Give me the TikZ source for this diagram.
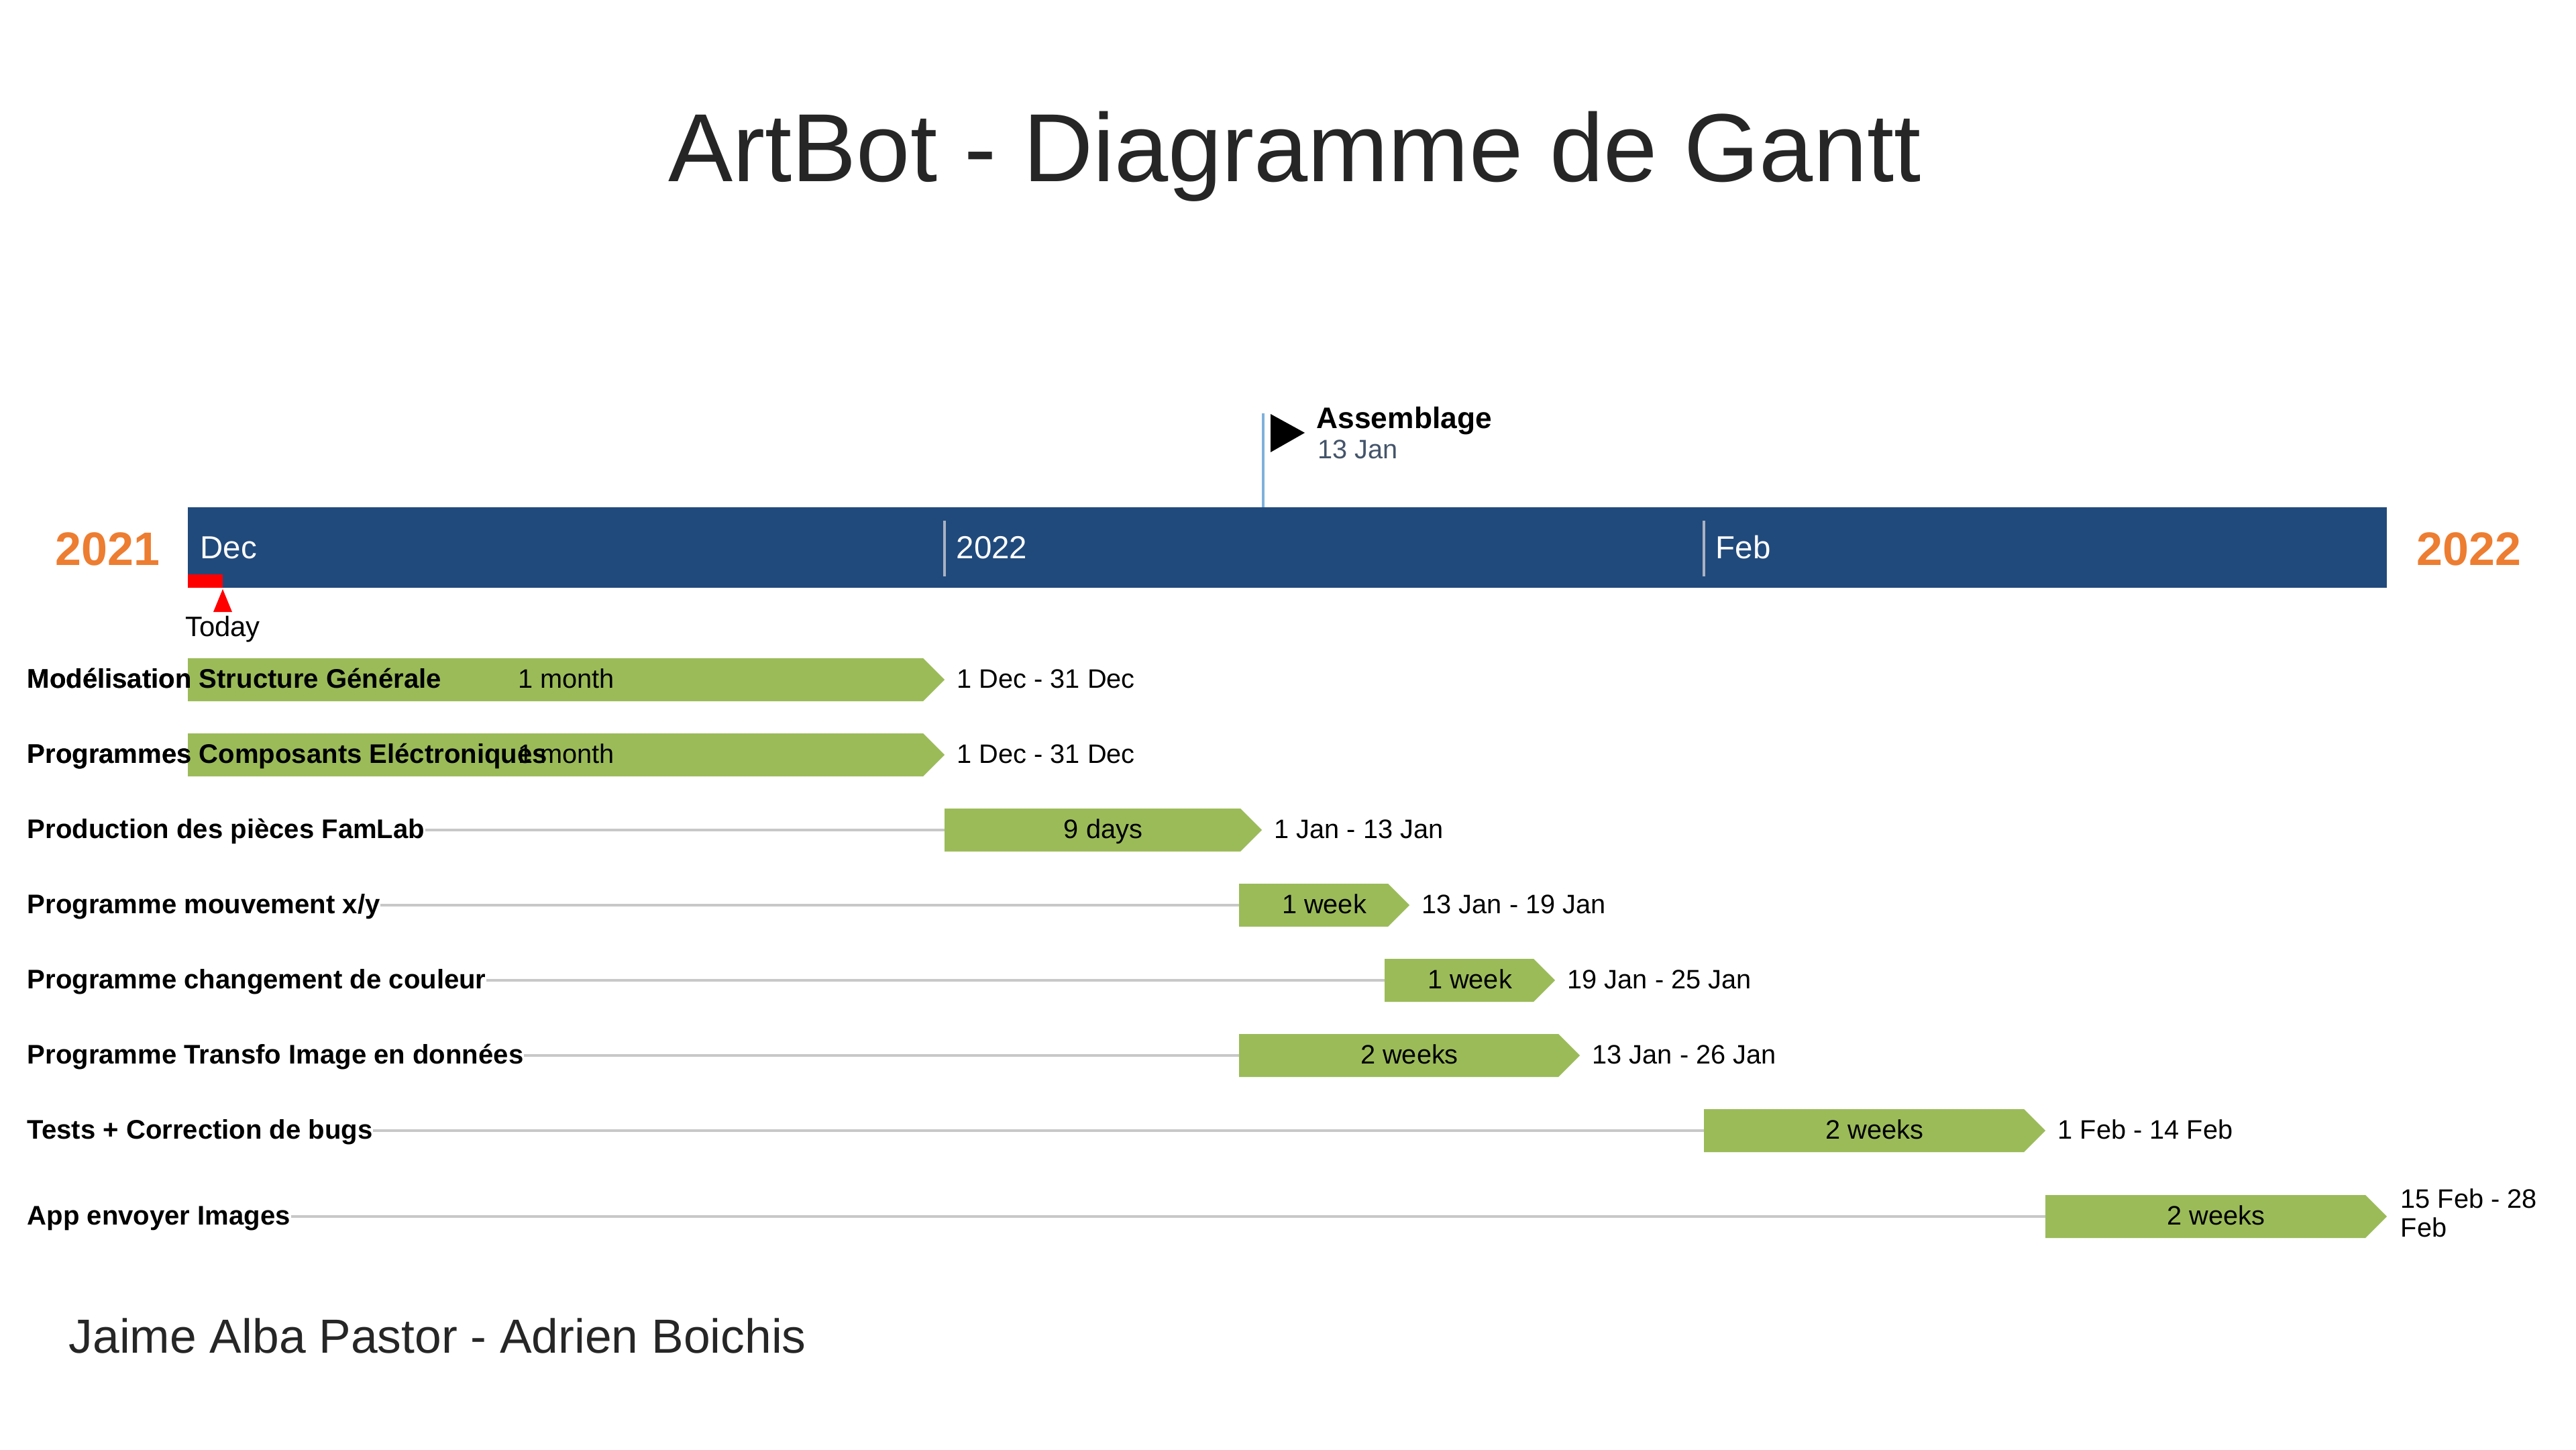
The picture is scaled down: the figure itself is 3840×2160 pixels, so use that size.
\documentclass[tikz,border=0pt]{standalone}
\usepackage{fontspec}
\setmainfont{Liberation Sans}
\usetikzlibrary{calc}
\definecolor{barblue}{HTML}{214A7C}
\definecolor{taskgreen}{HTML}{9BBB59}
\definecolor{yearorange}{HTML}{ED7D31}
\definecolor{gridgray}{HTML}{C8C8C8}
\definecolor{titlegray}{HTML}{262626}
\definecolor{divgray}{HTML}{A9B1C2}
\definecolor{poleblue}{HTML}{7FB1DB}
\definecolor{slate}{HTML}{44546A}
\newcommand\taskbar[2]{\fill[taskgreen] ($(#1)+(0,-32)$) -- ($(#2)+(-32,-32)$) -- (#2) -- ($(#2)+(-32,32)$) -- ($(#1)+(0,32)$) -- cycle;}
\tikzset{
  tasklbl/.style={anchor=base west, inner sep=0pt, text=black, font=\fontsize{11.4}{13}\selectfont\bfseries},
  durlbl/.style={anchor=base, inner sep=0pt, text=black, font=\fontsize{11.3}{13}\selectfont},
  datelbl/.style={anchor=base west, inner sep=0pt, text=black, font=\fontsize{11.3}{12.24}\selectfont},
  monthlbl/.style={anchor=base west, inner sep=0pt, text=white, font=\fontsize{13.5}{16}\selectfont},
  yearlbl/.style={anchor=base west, inner sep=0pt, text=yearorange, font=\fontsize{19.9}{23}\selectfont\bfseries},
  gridline/.style={draw=gridgray, line width=1pt},
  divline/.style={draw=divgray, line width=0.9pt},
}
\begin{document}
\begin{tikzpicture}[x=0.01cm, y=-0.01cm]
\useasboundingbox (0,0) rectangle (3840,2160);
\fill[white] (0,0) rectangle (3840,2160);

% title and author
\node[anchor=base, inner sep=0pt, text=titlegray, font=\fontsize{41}{48}\selectfont] (title) at (1930,270) {ArtBot - Diagramme de Gantt};
\node[anchor=base west, inner sep=0pt, text=titlegray, font=\fontsize{20.3}{24}\selectfont] (author) at (102,2016) {Jaime Alba Pastor - Adrien Boichis};

% timeline bar
\fill[barblue] (280,756) rectangle (3558,876);
\coordinate (jantop) at (1408,776);
\coordinate (janbot) at (1408,859);
\coordinate (febtop) at (2540,776);
\coordinate (febbot) at (2540,859);
\draw[divline] (jantop) -- (janbot);
\draw[divline] (febtop) -- (febbot);
\node[monthlbl] (mDec) at (298,832) {Dec};
\node[monthlbl] (mJan) at (1425,832) {2022};
\node[monthlbl] (mFeb) at (2557,832) {Feb};
\node[yearlbl] (y2021) at (82,842) {2021};
\node[yearlbl] (y2022) at (3602,842) {2022};

% today marker
\fill[red] (280,856) rectangle (332,876);
\fill[red] (332,878) -- (346,912) -- (318,912) -- cycle;
\node[anchor=base, inner sep=0pt, text=black, font=\fontsize{11.9}{14}\selectfont] (today) at (332,948) {Today};

% milestone
\coordinate (poletop) at (1883,616);
\coordinate (polebot) at (1883,756);
\draw[draw=poleblue, line width=0.9pt] (poletop) -- (polebot);
\fill[black] (1894,617) -- (1945,645) -- (1894,674) -- cycle;
\node[anchor=base west, inner sep=0pt, text=black, font=\fontsize{12.6}{15}\selectfont\bfseries] (asm) at (1962,638) {Assemblage};
\node[anchor=base west, inner sep=0pt, text=slate, font=\fontsize{11.3}{13}\selectfont] (asmdate) at (1964,683) {13 Jan};

% task coordinates
\coordinate (s1) at (280,1013);  \coordinate (e1) at (1408,1013);
\coordinate (s2) at (280,1125);  \coordinate (e2) at (1408,1125);
\coordinate (s3) at (1408,1237); \coordinate (e3) at (1881,1237);
\coordinate (s4) at (1847,1349); \coordinate (e4) at (2101,1349);
\coordinate (s5) at (2064,1461); \coordinate (e5) at (2318,1461);
\coordinate (s6) at (1847,1573); \coordinate (e6) at (2355,1573);
\coordinate (s7) at (2540,1685); \coordinate (e7) at (3049,1685);
\coordinate (s8) at (3049,1813); \coordinate (e8) at (3558,1813);

% task labels
\node[tasklbl] (L1) at (40,1025) {Modélisation Structure Générale};
\node[tasklbl] (L2) at (40,1137) {Programmes Composants Eléctroniques};
\node[tasklbl] (L3) at (40,1249) {Production des pièces FamLab};
\node[tasklbl] (L4) at (40,1361) {Programme mouvement x/y};
\node[tasklbl] (L5) at (40,1473) {Programme changement de couleur};
\node[tasklbl] (L6) at (40,1585) {Programme Transfo Image en données};
\node[tasklbl] (L7) at (40,1697) {Tests + Correction de bugs};
\node[tasklbl] (L8) at (40,1825) {App envoyer Images};

% connectors from labels to bars
\draw[gridline] (L3.east |- s3) -- (s3);
\draw[gridline] (L4.east |- s4) -- (s4);
\draw[gridline] (L5.east |- s5) -- (s5);
\draw[gridline] (L6.east |- s6) -- (s6);
\draw[gridline] (L7.east |- s7) -- (s7);
\draw[gridline] (L8.east |- s8) -- (s8);

% bars
\taskbar{s1}{e1}
\taskbar{s2}{e2}
\taskbar{s3}{e3}
\taskbar{s4}{e4}
\taskbar{s5}{e5}
\taskbar{s6}{e6}
\taskbar{s7}{e7}
\taskbar{s8}{e8}

% labels redrawn on top of bars for the overlapping rows
\node[tasklbl] at (40,1025) {Modélisation Structure Générale};
\node[tasklbl] at (40,1137) {Programmes Composants Eléctroniques};

% durations
\node[durlbl] (D1) at ($(s1)!0.5!(e1)+(0,12)$) {1 month};
\node[durlbl] (D2) at ($(s2)!0.5!(e2)+(0,12)$) {1 month};
\node[durlbl] (D3) at ($(s3)!0.5!(e3)+(0,12)$) {9 days};
\node[durlbl] (D4) at ($(s4)!0.5!(e4)+(0,12)$) {1 week};
\node[durlbl] (D5) at ($(s5)!0.5!(e5)+(0,12)$) {1 week};
\node[durlbl] (D6) at ($(s6)!0.5!(e6)+(0,12)$) {2 weeks};
\node[durlbl] (D7) at ($(s7)!0.5!(e7)+(0,12)$) {2 weeks};
\node[durlbl] (D8) at ($(s8)!0.5!(e8)+(0,12)$) {2 weeks};

% dates
\node[datelbl] (T1) at ($(e1)+(18,12)$) {1 Dec - 31 Dec};
\node[datelbl] (T2) at ($(e2)+(18,12)$) {1 Dec - 31 Dec};
\node[datelbl] (T3) at ($(e3)+(18,12)$) {1 Jan - 13 Jan};
\node[datelbl] (T4) at ($(e4)+(18,12)$) {13 Jan - 19 Jan};
\node[datelbl] (T5) at ($(e5)+(18,12)$) {19 Jan - 25 Jan};
\node[datelbl] (T6) at ($(e6)+(18,12)$) {13 Jan - 26 Jan};
\node[datelbl] (T7) at ($(e7)+(18,12)$) {1 Feb - 14 Feb};
\node[datelbl, anchor=north west, align=left] (T8) at ($(e8)+(20,-42)$) {15 Feb - 28\\Feb};
\end{tikzpicture}
\end{document}
